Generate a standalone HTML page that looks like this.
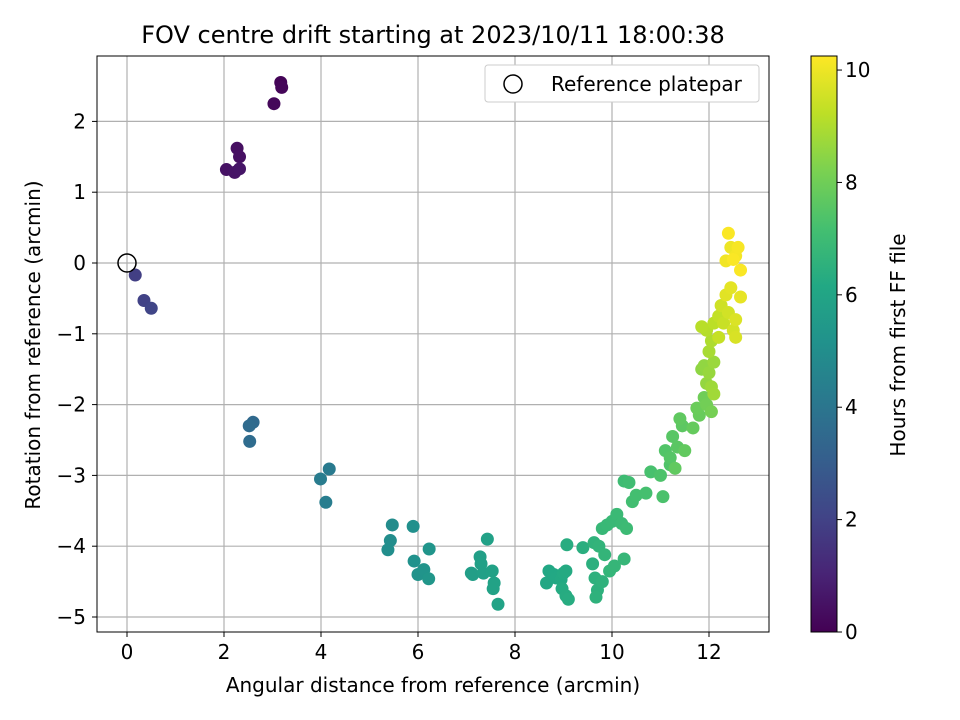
<!DOCTYPE html>
<html><head><meta charset="utf-8"><style>
body{margin:0;background:#fff;}
svg{display:block;font-family:"DejaVu Sans","Liberation Sans",sans-serif;}
</style></head><body>
<svg id="chart" width="960" height="720">
<defs>
<linearGradient id="vir" x1="0" y1="1" x2="0" y2="0">
<stop offset="0" stop-color="#440154"/><stop offset="0.1" stop-color="#482475"/><stop offset="0.2" stop-color="#414487"/><stop offset="0.3" stop-color="#355f8d"/><stop offset="0.4" stop-color="#2a788e"/><stop offset="0.5" stop-color="#21918c"/><stop offset="0.6" stop-color="#22a884"/><stop offset="0.7" stop-color="#44bf70"/><stop offset="0.8" stop-color="#7ad151"/><stop offset="0.9" stop-color="#bddf26"/><stop offset="1" stop-color="#fde725"/>
</linearGradient>
<clipPath id="clip"><rect x="97" y="56" width="672" height="576"/></clipPath>
</defs>
<g id="grid"></g>
<g id="pts" clip-path="url(#clip)"></g>
<rect x="97" y="56" width="672" height="576" fill="none" stroke="#000" stroke-width="1"/>
<g id="axes"></g>
<text x="433" y="43" font-size="24" text-anchor="middle">FOV centre drift starting at 2023/10/11 18:00:38</text>
<text x="433" y="692" font-size="20" text-anchor="middle">Angular distance from reference (arcmin)</text>
<text x="0" y="0" font-size="20" text-anchor="middle" transform="translate(40,345) rotate(-90)">Rotation from reference (arcmin)</text>
<g>
<rect x="485" y="65" width="274" height="37" rx="3" fill="#fff" stroke="#ccc"/>
<circle cx="513" cy="84" r="9" fill="none" stroke="#000" stroke-width="1.5"/>
<text x="551" y="91" font-size="20">Reference platepar</text>
</g>
<rect x="811" y="56" width="26" height="576" fill="url(#vir)" stroke="#000" stroke-width="1"/>
<g id="cbticks"></g>
<text x="0" y="0" font-size="20" text-anchor="middle" transform="translate(905,345) rotate(-90)">Hours from first FF file</text>
</svg>
<script>
const xTicks=[0,2,4,6,8,10,12];
const yTicks=[2,1,0,-1,-2,-3,-4,-5];
const cTicks=[0,2,4,6,8,10];
const xs=[3.17,3.19,3.03,2.27,2.32,2.05,2.22,2.32,0.17,0.35,0.5,2.6,2.52,2.53,4.17,3.99,4.1,5.47,5.43,5.38,5.9,5.92,6.0,6.12,6.23,6.22,7.1,7.13,7.28,7.3,7.35,7.43,7.53,7.55,7.57,7.65,8.65,8.7,8.8,8.85,8.95,9.0,9.05,8.97,9.05,9.1,9.07,9.4,9.6,9.65,9.7,9.67,9.8,9.63,9.73,9.85,9.95,10.05,10.25,9.8,9.9,10.0,10.1,10.2,10.3,10.25,10.35,10.42,10.5,10.7,10.8,11.05,11.0,11.2,11.1,11.2,11.25,11.35,11.45,11.4,11.3,11.5,11.67,11.8,11.75,11.9,11.95,12.05,11.85,11.9,11.95,12.0,12.1,12.05,12.1,12.0,12.05,11.95,11.85,12.1,12.2,12.2,12.3,12.25,12.4,12.5,12.55,12.55,12.35,12.45,12.65,12.45,12.35,12.55,12.6,12.4,12.65,12.5];
const ys=[2.55,2.48,2.25,1.62,1.5,1.32,1.28,1.33,-0.17,-0.53,-0.64,-2.25,-2.3,-2.52,-2.91,-3.05,-3.38,-3.7,-3.92,-4.05,-3.72,-4.21,-4.4,-4.33,-4.04,-4.46,-4.38,-4.4,-4.15,-4.25,-4.38,-3.9,-4.35,-4.6,-4.52,-4.82,-4.52,-4.35,-4.4,-4.45,-4.47,-4.38,-4.35,-4.6,-4.7,-4.75,-3.98,-4.02,-4.25,-4.45,-4.62,-4.72,-4.5,-3.95,-4.0,-4.12,-4.35,-4.28,-4.18,-3.75,-3.7,-3.65,-3.55,-3.68,-3.75,-3.08,-3.1,-3.37,-3.28,-3.25,-2.95,-3.3,-3.0,-2.85,-2.65,-2.75,-2.45,-2.6,-2.3,-2.2,-2.9,-2.65,-2.33,-2.15,-2.05,-1.9,-2.0,-2.1,-1.5,-1.45,-1.7,-1.55,-1.4,-1.75,-1.85,-1.25,-1.1,-0.95,-0.9,-0.85,-0.75,-1.05,-0.85,-0.6,-0.7,-0.95,-1.05,-0.8,-0.45,-0.35,-0.48,0.22,0.03,0.1,0.22,0.42,-0.1,0.05];
const hours=[0.1,0.15,0.2,0.4,0.45,0.5,0.55,0.6,1.9,2.0,2.1,3.5,3.55,3.6,4.2,4.25,4.3,4.9,4.95,5.0,5.1,5.15,5.2,5.25,5.3,5.35,5.7,5.72,5.75,5.78,5.8,5.82,5.85,5.88,5.9,5.92,6.1,6.12,6.15,6.17,6.2,6.22,6.25,6.27,6.3,6.32,6.35,6.4,6.45,6.5,6.52,6.55,6.57,6.6,6.65,6.7,6.72,6.75,6.78,6.8,6.85,6.88,6.9,6.92,6.95,7.0,7.05,7.1,7.15,7.2,7.25,7.3,7.35,7.4,7.45,7.5,7.55,7.6,7.65,7.7,7.72,7.75,7.8,7.85,7.9,8.0,8.05,8.1,8.5,8.55,8.6,8.65,8.7,8.75,8.8,8.9,9.0,9.1,9.15,9.2,9.3,9.35,9.4,9.5,9.55,9.6,9.65,9.7,9.8,9.85,9.9,10.0,10.05,10.1,10.15,10.2,10.2,10.2];
const NS="http://www.w3.org/2000/svg";
const X=v=>127+v*48.5, Y=v=>263-v*70.8;
const CMAX=10.25, C=v=>632-v/CMAX*576;
const stops=["#440154","#482475","#414487","#355f8d","#2a788e","#21918c","#22a884","#44bf70","#7ad151","#bddf26","#fde725"].map(h=>[1,3,5].map(i=>parseInt(h.substr(i,2),16)));
function vir(t){t=Math.max(0,Math.min(1,t))*10;const i=Math.min(9,Math.floor(t)),f=t-i;const a=stops[i],b=stops[i+1];return "rgb("+a.map((v,k)=>Math.round(v+(b[k]-v)*f)).join(",")+")";}
function mk(tag,attrs,parent){const e=document.createElementNS(NS,tag);for(const k in attrs)e.setAttribute(k,attrs[k]);parent.appendChild(e);return e;}
const grid=document.getElementById("grid"),axes=document.getElementById("axes"),pts=document.getElementById("pts"),cb=document.getElementById("cbticks");
xTicks.forEach(v=>{const x=X(v);
let g=mk("line",{x1:x,x2:x,y1:56,y2:632,stroke:"#b0b0b0","stroke-width":1.2},grid);


let t=mk("line",{x1:x,x2:x,y1:632,y2:637,stroke:"#000"},axes);


let l=mk("text",{x:x,y:659,"font-size":20,"text-anchor":"middle"},axes);l.textContent=v;

});
yTicks.forEach(v=>{const y=Y(v);
let g=mk("line",{x1:97,x2:769,y1:y,y2:y,stroke:"#b0b0b0","stroke-width":1.2},grid);


let t=mk("line",{x1:92,x2:97,y1:y,y2:y,stroke:"#000"},axes);


let l=mk("text",{x:86,y:y+7,"font-size":20,"text-anchor":"end"},axes);l.textContent=v<0?"\u2212"+(-v):v;

});
xs.forEach((v,i)=>{let c=mk("circle",{cx:X(v),cy:Y(ys[i]),r:6.5,fill:vir(hours[i]/CMAX)},pts);

});
let ref=mk("circle",{cx:X(0),cy:Y(0),r:9,fill:"none",stroke:"#000","stroke-width":1.5},pts);


cTicks.forEach(v=>{const y=C(v);
let t=mk("line",{x1:837,x2:842,y1:y,y2:y,stroke:"#000"},cb);


let l=mk("text",{x:845,y:y+7,"font-size":20},cb);l.textContent=v;

});
</script>
</body></html>
